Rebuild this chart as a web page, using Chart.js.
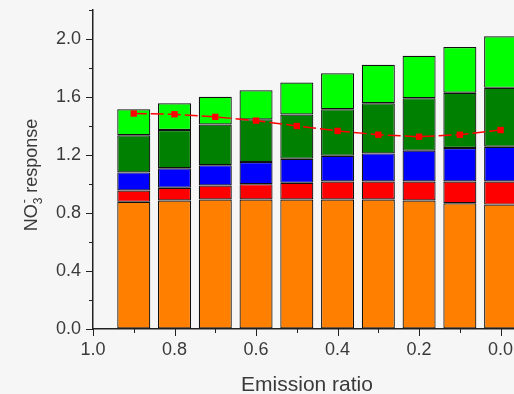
<!DOCTYPE html>
<html>
<head>
<meta charset="utf-8">
<script src="https://cdn.jsdelivr.net/npm/chart.js@4"></script>
<style>
  html, body { margin: 0; padding: 0; background: #f6f6f6; overflow: hidden; width: 514px; height: 394px; }
  #wrap { width: 530px; height: 394px; }
</style>
</head>
<body>
<div id="wrap"><canvas id="c" width="530" height="394"></canvas></div>
<script>
// Emission ratio for each scenario
const ratios = [0.9, 0.8, 0.7, 0.6, 0.5, 0.4, 0.3, 0.2, 0.1, 0.0];

// Stacked contributions to the nitrate response (bottom to top)
const orangePart    = [0.877, 0.886, 0.893, 0.893, 0.893, 0.893, 0.893, 0.886, 0.867, 0.858];
const redPart       = [0.078, 0.088, 0.097, 0.106, 0.115, 0.124, 0.124, 0.131, 0.150, 0.159];
const bluePart      = [0.125, 0.135, 0.140, 0.152, 0.166, 0.178, 0.194, 0.213, 0.231, 0.240];
const darkGreenPart = [0.256, 0.263, 0.280, 0.295, 0.305, 0.321, 0.346, 0.362, 0.381, 0.406];
const lightGreenPart= [0.180, 0.185, 0.191, 0.201, 0.221, 0.247, 0.265, 0.293, 0.316, 0.356];

// Dashed red line
const lineValues    = [1.486, 1.481, 1.463, 1.437, 1.400, 1.366, 1.340, 1.326, 1.340, 1.372];

// Axis ticks
const xMajorTicks = [1.0, 0.8, 0.6, 0.4, 0.2, 0.0];
const xMinorTicks = [0.9, 0.7, 0.5, 0.3, 0.1];
const yMajorTicks = [0.0, 0.4, 0.8, 1.2, 1.6, 2.0];
const yMinorTicks = [0.2, 0.6, 1.0, 1.4, 1.8, 2.2];

const FONT = "'Liberation Sans', Arial, sans-serif";
const TEXT = '#3a3a3a';
const AXIS = '#222222';

const pts = vals => ratios.map((r, i) => ({ x: r, y: vals[i] }));

const barStyle = color => ({
  type: 'bar',
  backgroundColor: color,
  borderColor: '#111111',
  borderWidth: 1.2,
  borderSkipped: false,
  barPercentage: 0.81,
  categoryPercentage: 1.0,
  stack: 'bars',
  order: 1
});

// Outward major/minor tick marks on both axes
const tickMarks = {
  id: 'tickMarks',
  afterDraw(chart) {
    const { ctx, chartArea, scales } = chart;
    ctx.save();
    ctx.strokeStyle = AXIS;
    ctx.lineWidth = 1;
    ctx.beginPath();
    const yl = chartArea.left;
    yMajorTicks.forEach(v => {
      const py = Math.round(scales.y.getPixelForValue(v)) + 0.5;
      ctx.moveTo(yl - 7, py); ctx.lineTo(yl, py);
    });
    yMinorTicks.forEach(v => {
      const py = Math.round(scales.y.getPixelForValue(v)) + 0.5;
      ctx.moveTo(yl - 4, py); ctx.lineTo(yl, py);
    });
    const xb = chartArea.bottom;
    xMajorTicks.forEach(v => {
      const px = Math.round(scales.x.getPixelForValue(v)) + 0.5;
      ctx.moveTo(px, xb); ctx.lineTo(px, xb + 7);
    });
    xMinorTicks.forEach(v => {
      const px = Math.round(scales.x.getPixelForValue(v)) + 0.5;
      ctx.moveTo(px, xb); ctx.lineTo(px, xb + 4);
    });
    ctx.stroke();
    ctx.restore();
  }
};

// Axis titles, the y title carries the NO3- sub/superscripts
const axisTitles = {
  id: 'axisTitles',
  afterDraw(chart) {
    const { ctx, chartArea } = chart;
    ctx.save();
    ctx.fillStyle = TEXT;
    ctx.textBaseline = 'alphabetic';

    ctx.font = '21px ' + FONT;
    ctx.textAlign = 'center';
    ctx.fillText('Emission ratio', (chartArea.left + chartArea.right) / 2, 391);

    const big = '18px ' + FONT, small = '12px ' + FONT;
    ctx.font = big;
    const wNO = ctx.measureText('NO').width;
    const wResp = ctx.measureText(' response').width;
    ctx.font = small;
    const w3 = ctx.measureText('3').width;
    const total = wNO + w3 + wResp;

    ctx.translate(37, 175);
    ctx.rotate(-Math.PI / 2);
    ctx.textAlign = 'left';
    let x0 = -total / 2;
    ctx.font = big;
    ctx.fillText('NO', x0, 0);
    ctx.font = small;
    ctx.fillText('3', x0 + wNO, 5);
    ctx.fillText('-', x0 + wNO + 1, -9);
    ctx.font = big;
    ctx.fillText(' response', x0 + wNO + w3, 0);
    ctx.restore();
  }
};

new Chart(document.getElementById('c'), {
  type: 'bar',
  data: {
    datasets: [
      Object.assign({ label: 'orange', data: pts(orangePart) }, barStyle('#ff8000')),
      Object.assign({ label: 'red', data: pts(redPart) }, barStyle('#ff0000')),
      Object.assign({ label: 'blue', data: pts(bluePart) }, barStyle('#0000ff')),
      Object.assign({ label: 'dark green', data: pts(darkGreenPart) }, barStyle('#008000')),
      Object.assign({ label: 'light green', data: pts(lightGreenPart) }, barStyle('#00ff00')),
      {
        type: 'line',
        label: 'total',
        data: pts(lineValues),
        stack: 'line',
        order: 0,
        borderColor: '#ff0000',
        borderWidth: 1.5,
        borderDash: [13, 4],
        tension: 0,
        pointStyle: 'rect',
        pointRadius: 4.5,
        pointBackgroundColor: '#ff0000',
        pointBorderWidth: 0
      }
    ]
  },
  options: {
    responsive: false,
    animation: false,
    layout: { padding: { left: 0, top: 10, right: 9, bottom: 0 } },
    plugins: { legend: { display: false }, tooltip: { enabled: false } },
    scales: {
      x: {
        type: 'linear',
        reverse: true,
        min: -0.05,
        max: 1.0,
        offset: false,
        stacked: true,
        afterBuildTicks: s => { s.ticks = xMajorTicks.map(v => ({ value: v })); },
        afterFit: s => { s.height = 65; s.paddingLeft = 0; s.paddingRight = 0; },
        grid: { display: true, drawOnChartArea: false, drawTicks: false, offset: false },
        border: { display: true, color: AXIS, width: 1.5 },
        ticks: {
          padding: 10,
          color: TEXT,
          font: { family: FONT, size: 18 },
          maxRotation: 0,
          autoSkip: false,
          callback: v => Number(v).toFixed(1)
        }
      },
      y: {
        min: 0,
        max: 2.2,
        stacked: true,
        afterBuildTicks: s => { s.ticks = yMajorTicks.map(v => ({ value: v })); },
        afterFit: s => { s.width = 93; s.paddingTop = 0; s.paddingBottom = 0; },
        grid: { display: true, drawOnChartArea: false, drawTicks: false },
        border: { display: true, color: AXIS, width: 1.5 },
        ticks: {
          padding: 12,
          color: TEXT,
          font: { family: FONT, size: 18 },
          callback: v => Number(v).toFixed(1)
        }
      }
    }
  },
  plugins: [tickMarks, axisTitles]
});
</script>
</body>
</html>
